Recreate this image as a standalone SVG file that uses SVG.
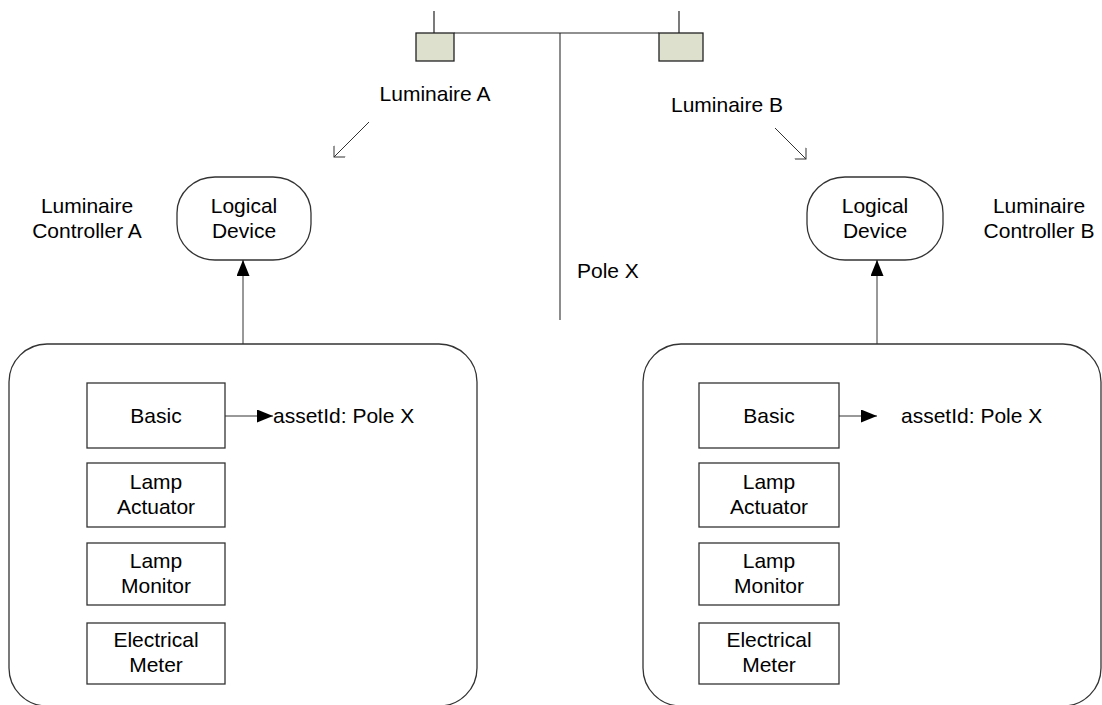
<svg xmlns="http://www.w3.org/2000/svg" width="1102" height="705" viewBox="0 0 1102 705">
  <style>
    text { font-family: "Liberation Sans", Arial, sans-serif; font-size: 21px; fill: #000; }
    .c { text-anchor: middle; }
    .box { fill: #fff; stroke: #333; stroke-width: 1.3; }
    .lamp { fill: #dde0cc; stroke: #222; stroke-width: 1.3; }
    .ln { fill: none; stroke: #222; stroke-width: 1.2; }
    .pole { fill: none; stroke: #808080; stroke-width: 1.8; }
    .thin { fill: none; stroke: #333; stroke-width: 1; }
  </style>
  <defs>
    <marker id="solid" markerWidth="16" markerHeight="13" refX="16" refY="6.5" orient="auto" markerUnits="userSpaceOnUse">
      <path d="M0,0 L16,6.5 L0,13 Z" fill="#000"/>
    </marker>
    <marker id="open" markerWidth="16" markerHeight="16" refX="15" refY="8" orient="auto" markerUnits="userSpaceOnUse">
      <path d="M7,0 L15,8 L7,16" fill="none" stroke="#333" stroke-width="1"/>
    </marker>
  </defs>
  <rect width="1102" height="705" fill="#fff"/>

  <!-- street light pole with two luminaires -->
  <g id="pole-x">
    <line class="pole" x1="560" y1="33" x2="560" y2="320"/>
    <line class="ln" x1="454" y1="33" x2="659" y2="33"/>
    <text x="577" y="278">Pole X</text>
  </g>
  <g id="luminaire-a">
    <line class="ln" x1="434" y1="11" x2="434" y2="33"/>
    <rect class="lamp" x="416" y="33" width="38" height="28"/>
    <text class="c" x="435" y="101">Luminaire A</text>
  </g>
  <g id="luminaire-b">
    <line class="ln" x1="679" y1="11" x2="679" y2="33"/>
    <rect class="lamp" x="659" y="33" width="44" height="28"/>
    <text class="c" x="727" y="112">Luminaire B</text>
  </g>

  <!-- controller A -->
  <g id="controller-a-label">
    <text class="c" x="87" y="213">Luminaire</text>
    <text class="c" x="87" y="238">Controller A</text>
  </g>
  <g id="logical-device-a">
    <rect class="box" x="177" y="177" width="134" height="83" rx="38" ry="36"/>
    <text class="c" x="244" y="213">Logical</text>
    <text class="c" x="244" y="238">Device</text>
  </g>
  <g id="container-a">
    <rect class="box" x="9" y="344" width="468" height="362" rx="38" ry="38"/>
  </g>
  <g id="basic-a">
    <rect class="box" x="87" y="383" width="138" height="65"/>
    <text class="c" x="156" y="423">Basic</text>
  </g>
  <g id="lamp-actuator-a">
    <rect class="box" x="87" y="463" width="138" height="64"/>
    <text class="c" x="156" y="489">Lamp</text>
    <text class="c" x="156" y="514">Actuator</text>
  </g>
  <g id="lamp-monitor-a">
    <rect class="box" x="87" y="543" width="138" height="62"/>
    <text class="c" x="156" y="568">Lamp</text>
    <text class="c" x="156" y="593">Monitor</text>
  </g>
  <g id="electrical-meter-a">
    <rect class="box" x="87" y="623" width="138" height="61"/>
    <text class="c" x="156" y="647">Electrical</text>
    <text class="c" x="156" y="672">Meter</text>
  </g>
  <g id="asset-id-a">
    <text x="273" y="423">assetId: Pole X</text>
  </g>

  <!-- controller B -->
  <g id="controller-b-label">
    <text class="c" x="1039" y="213">Luminaire</text>
    <text class="c" x="1039" y="238">Controller B</text>
  </g>
  <g id="logical-device-b">
    <rect class="box" x="807" y="177" width="136" height="83" rx="38" ry="36"/>
    <text class="c" x="875" y="213">Logical</text>
    <text class="c" x="875" y="238">Device</text>
  </g>
  <g id="container-b">
    <rect class="box" x="643" y="344" width="458" height="362" rx="38" ry="38"/>
  </g>
  <g id="basic-b">
    <rect class="box" x="699" y="383" width="140" height="65"/>
    <text class="c" x="769" y="423">Basic</text>
  </g>
  <g id="lamp-actuator-b">
    <rect class="box" x="699" y="463" width="140" height="64"/>
    <text class="c" x="769" y="489">Lamp</text>
    <text class="c" x="769" y="514">Actuator</text>
  </g>
  <g id="lamp-monitor-b">
    <rect class="box" x="699" y="543" width="140" height="62"/>
    <text class="c" x="769" y="568">Lamp</text>
    <text class="c" x="769" y="593">Monitor</text>
  </g>
  <g id="electrical-meter-b">
    <rect class="box" x="699" y="623" width="140" height="61"/>
    <text class="c" x="769" y="647">Electrical</text>
    <text class="c" x="769" y="672">Meter</text>
  </g>
  <g id="asset-id-b">
    <text x="901" y="423">assetId: Pole X</text>
  </g>

  <!-- connectors -->
  <g id="connectors">
    <line class="thin" x1="369" y1="122" x2="334" y2="157" marker-end="url(#open)"/>
    <line class="thin" x1="775" y1="128" x2="806" y2="159" marker-end="url(#open)"/>
    <line class="thin" x1="243" y1="344" x2="243" y2="260" marker-end="url(#solid)"/>
    <line class="thin" x1="877" y1="344" x2="877" y2="260" marker-end="url(#solid)"/>
    <line class="thin" x1="225" y1="416" x2="273" y2="416" marker-end="url(#solid)"/>
    <line class="thin" x1="839" y1="416" x2="877" y2="416" marker-end="url(#solid)"/>
  </g>
</svg>
